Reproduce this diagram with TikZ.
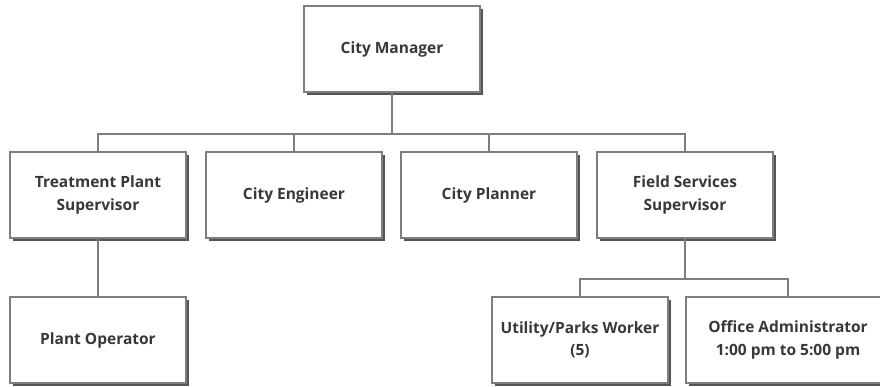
\documentclass[tikz,border=0pt]{standalone}
\usepackage{fontspec}
\setmainfont{Open Sans}
\usetikzlibrary{shadows}
\definecolor{boxline}{HTML}{7E7E7E}
\definecolor{boxshade}{HTML}{555555}
\definecolor{boxtext}{HTML}{383838}
\begin{document}
\begin{tikzpicture}[x=1pt,y=-1pt,
  orgbox/.style={rectangle, draw=boxline, line width=2pt, fill=white,
    minimum width=176pt, minimum height=86pt, align=center,
    text=boxtext, font=\fontsize{15.5}{22.5}\selectfont\bfseries,
    drop shadow={shadow xshift=3pt, shadow yshift=-3pt, fill=boxshade, opacity=1}},
  link/.style={draw=boxline, line width=2pt}]
\useasboundingbox (0,0) rectangle (880,386);

% top level
\node[orgbox] (cm) at (392,49) {City Manager};

% department heads
\node[orgbox] (tps) at (98,195)  {Treatment Plant\\Supervisor};
\node[orgbox] (ce)  at (294,195) {City Engineer};
\node[orgbox] (cp)  at (489,195) {City Planner};
\node[orgbox] (fs)  at (685,195) {Field Services\\Supervisor};

% staff
\node[orgbox] (po)  at (98,340)  {Plant Operator};
\node[orgbox] (upw) at (580,340) {Utility/Parks Worker\\(5)};
\node[orgbox, minimum width=204pt] (oa) at (788,340) {Office Administrator\\1:00 pm to 5:00 pm};

% bus lines
\coordinate (bus) at (392,134);
\coordinate (fsbus) at (685,279);

\draw[link] (cm.south) -- (cm.south |- bus);
\draw[link] (tps.north) -- (tps.north |- bus) -- (fs.north |- bus) -- (fs.north);
\draw[link] (ce.north) -- (ce.north |- bus);
\draw[link] (cp.north) -- (cp.north |- bus);

\draw[link] (tps.south) -- (po.north);

\draw[link] (fs.south) -- (fsbus);
\draw[link] (upw.north) -- (upw.north |- fsbus) -- (oa.north |- fsbus) -- (oa.north);
\end{tikzpicture}
\end{document}
